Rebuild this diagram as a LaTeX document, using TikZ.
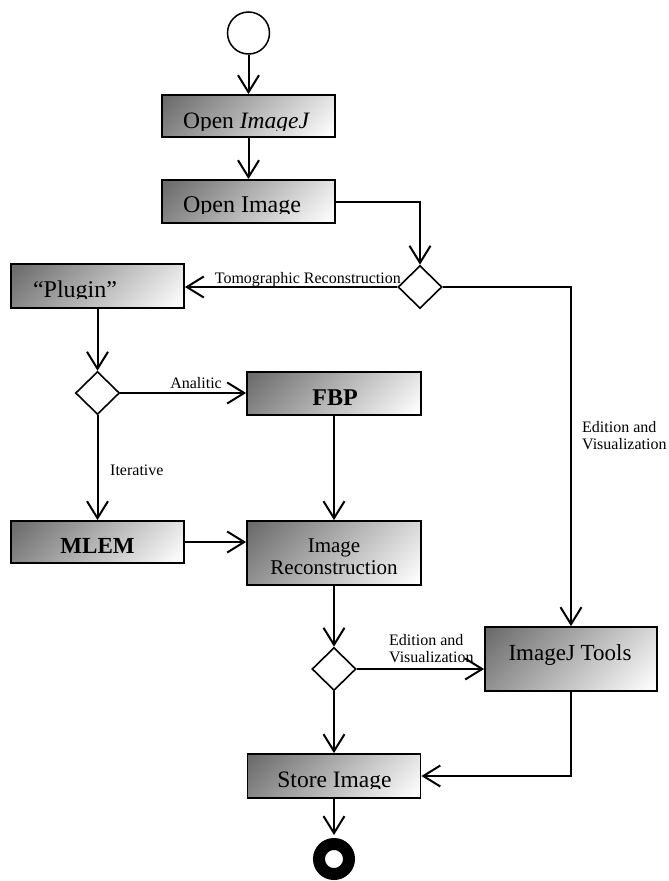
\documentclass[tikz,border=0pt]{standalone}
\usepackage{fontspec}
\setmainfont{Liberation Serif}
\usetikzlibrary{arrows.meta,shapes.geometric}
\pgfdeclareverticalshading{boxshade}{100bp}{color(0bp)=(white); color(16bp)=(white); color(84bp)=(black!58); color(100bp)=(black!58)}
\newcommand\cliptxt[6]{%
  \begin{scope}
    \clip (#2-110,#3-40) rectangle (#2+110,#3+#4);
    \node[anchor=base, inner sep=0pt, font=#5] (#1) at (#2,#3) {#6};
  \end{scope}}
\begin{document}
\begin{tikzpicture}[x=1pt,y=-1pt,
  conn/.style={line width=2pt,-{Straight Barb[length=17pt,width=21pt,line width=2pt]}},
  actbox/.style={draw=black, line width=1.8pt, rectangle, inner sep=0pt,
    shading=boxshade, shading angle=45},
  decision/.style={draw=black, line width=1.6pt, diamond, fill=white, inner sep=0pt,
    minimum width=44pt, minimum height=43pt},
  lbl/.style={inner sep=0pt, font=\fontsize{16}{17}\selectfont},
  lbltwo/.style={inner sep=0pt, align=left, font=\fontsize{16}{17}\selectfont}
]
\path[use as bounding box, clip] (0,0) rectangle (669,881);
\fill[white] (0,0) rectangle (669,881);

% start / end
\node[circle, draw=black, line width=1.5pt, minimum size=42pt, inner sep=0pt] (start) at (248.5,33) {};
\node[circle, draw=black, fill=white, line width=12pt, minimum size=30pt, inner sep=0pt] (end) at (334,859) {};

% boxes
\node[actbox, minimum width=173pt, minimum height=42pt] (oij) at (248.5,116) {};
\node[actbox, minimum width=173pt, minimum height=43pt] (oi) at (248.5,201.5) {};
\node[actbox, minimum width=173pt, minimum height=44pt] (plug) at (97.5,286) {};
\node[actbox, minimum width=174pt, minimum height=43pt] (fbp) at (334,393.5) {};
\node[actbox, minimum width=173pt, minimum height=42pt] (mlem) at (97.5,542) {};
\node[actbox, minimum width=174pt, minimum height=64pt] (ir) at (334,553) {};
\node[actbox, minimum width=172pt, minimum height=64pt] (ijt) at (571,659) {};
\node[actbox, minimum width=173pt, minimum height=44pt] (si) at (334,776) {};

% decisions
\node[decision] (d1) at (420,287) {};
\node[decision] (d2) at (97.5,393) {};
\node[decision] (d3) at (334,669) {};

% box texts
\cliptxt{toij}{246.5}{128}{2}{\fontsize{23.5}{23.5}\selectfont}{Open \textit{ImageJ}}
\cliptxt{toi}{242}{212}{1.5}{\fontsize{24}{24}\selectfont}{Open Image}
\cliptxt{tplug}{75}{297}{1.5}{\fontsize{24}{24}\selectfont}{“Plugin”}
\node[anchor=base, inner sep=0pt, font=\fontsize{24}{24}\selectfont\bfseries] (tfbp) at (335,405) {FBP};
\node[anchor=base, inner sep=0pt, font=\fontsize{23}{23}\selectfont\bfseries] (tmlem) at (97.5,553) {MLEM};
\node[anchor=base, inner sep=0pt, font=\fontsize{21}{21}\selectfont] (tir1) at (334,552) {Image};
\node[anchor=base, inner sep=0pt, font=\fontsize{21}{21}\selectfont] (tir2) at (334,574) {Reconstruction};
\node[anchor=base, inner sep=0pt, font=\fontsize{23}{23}\selectfont] (tijt) at (570,660) {ImageJ Tools};
\cliptxt{tsi}{334.5}{787}{1.5}{\fontsize{23.5}{23.5}\selectfont}{Store Image}

% connectors
\draw[conn] (start) -- (oij);
\draw[conn] (oij) -- (oi);
\draw[conn] (oi.east) -| (d1.north);
\draw[conn] (d1.west) -- (d1.west -| plug.east);
\draw[conn] (d1.east) -| (ijt.north);
\draw[conn] (plug) -- (d2);
\draw[conn] (d2.east) -- (d2.east -| fbp.west);
\draw[conn] (d2) -- (mlem);
\draw[conn] (fbp) -- (ir);
\draw[conn] (mlem.east) -- (mlem.east -| ir.west);
\draw[conn] (ir) -- (d3);
\draw[conn] (d3.east) -- (d3.east -| ijt.west);
\draw[conn] (d3) -- (si);
\draw[conn] (ijt.south) |- (si.east);
\draw[conn, shorten >=3pt] (si) -- (end);

% labels
\node[lbl, anchor=base east] (ltomo) at (401,283) {Tomographic Reconstruction};
\node[lbl, anchor=base east] (lana) at (222,388) {Analitic};
\node[lbl, anchor=base west] (liter) at (110,475) {Iterative};
\node[lbltwo, anchor=north west] (levone) at (582,421) {Edition and\\Visualization};
\node[lbltwo, anchor=north west] (levtwo) at (389,634) {Edition and\\Visualization};
\end{tikzpicture}
\end{document}
